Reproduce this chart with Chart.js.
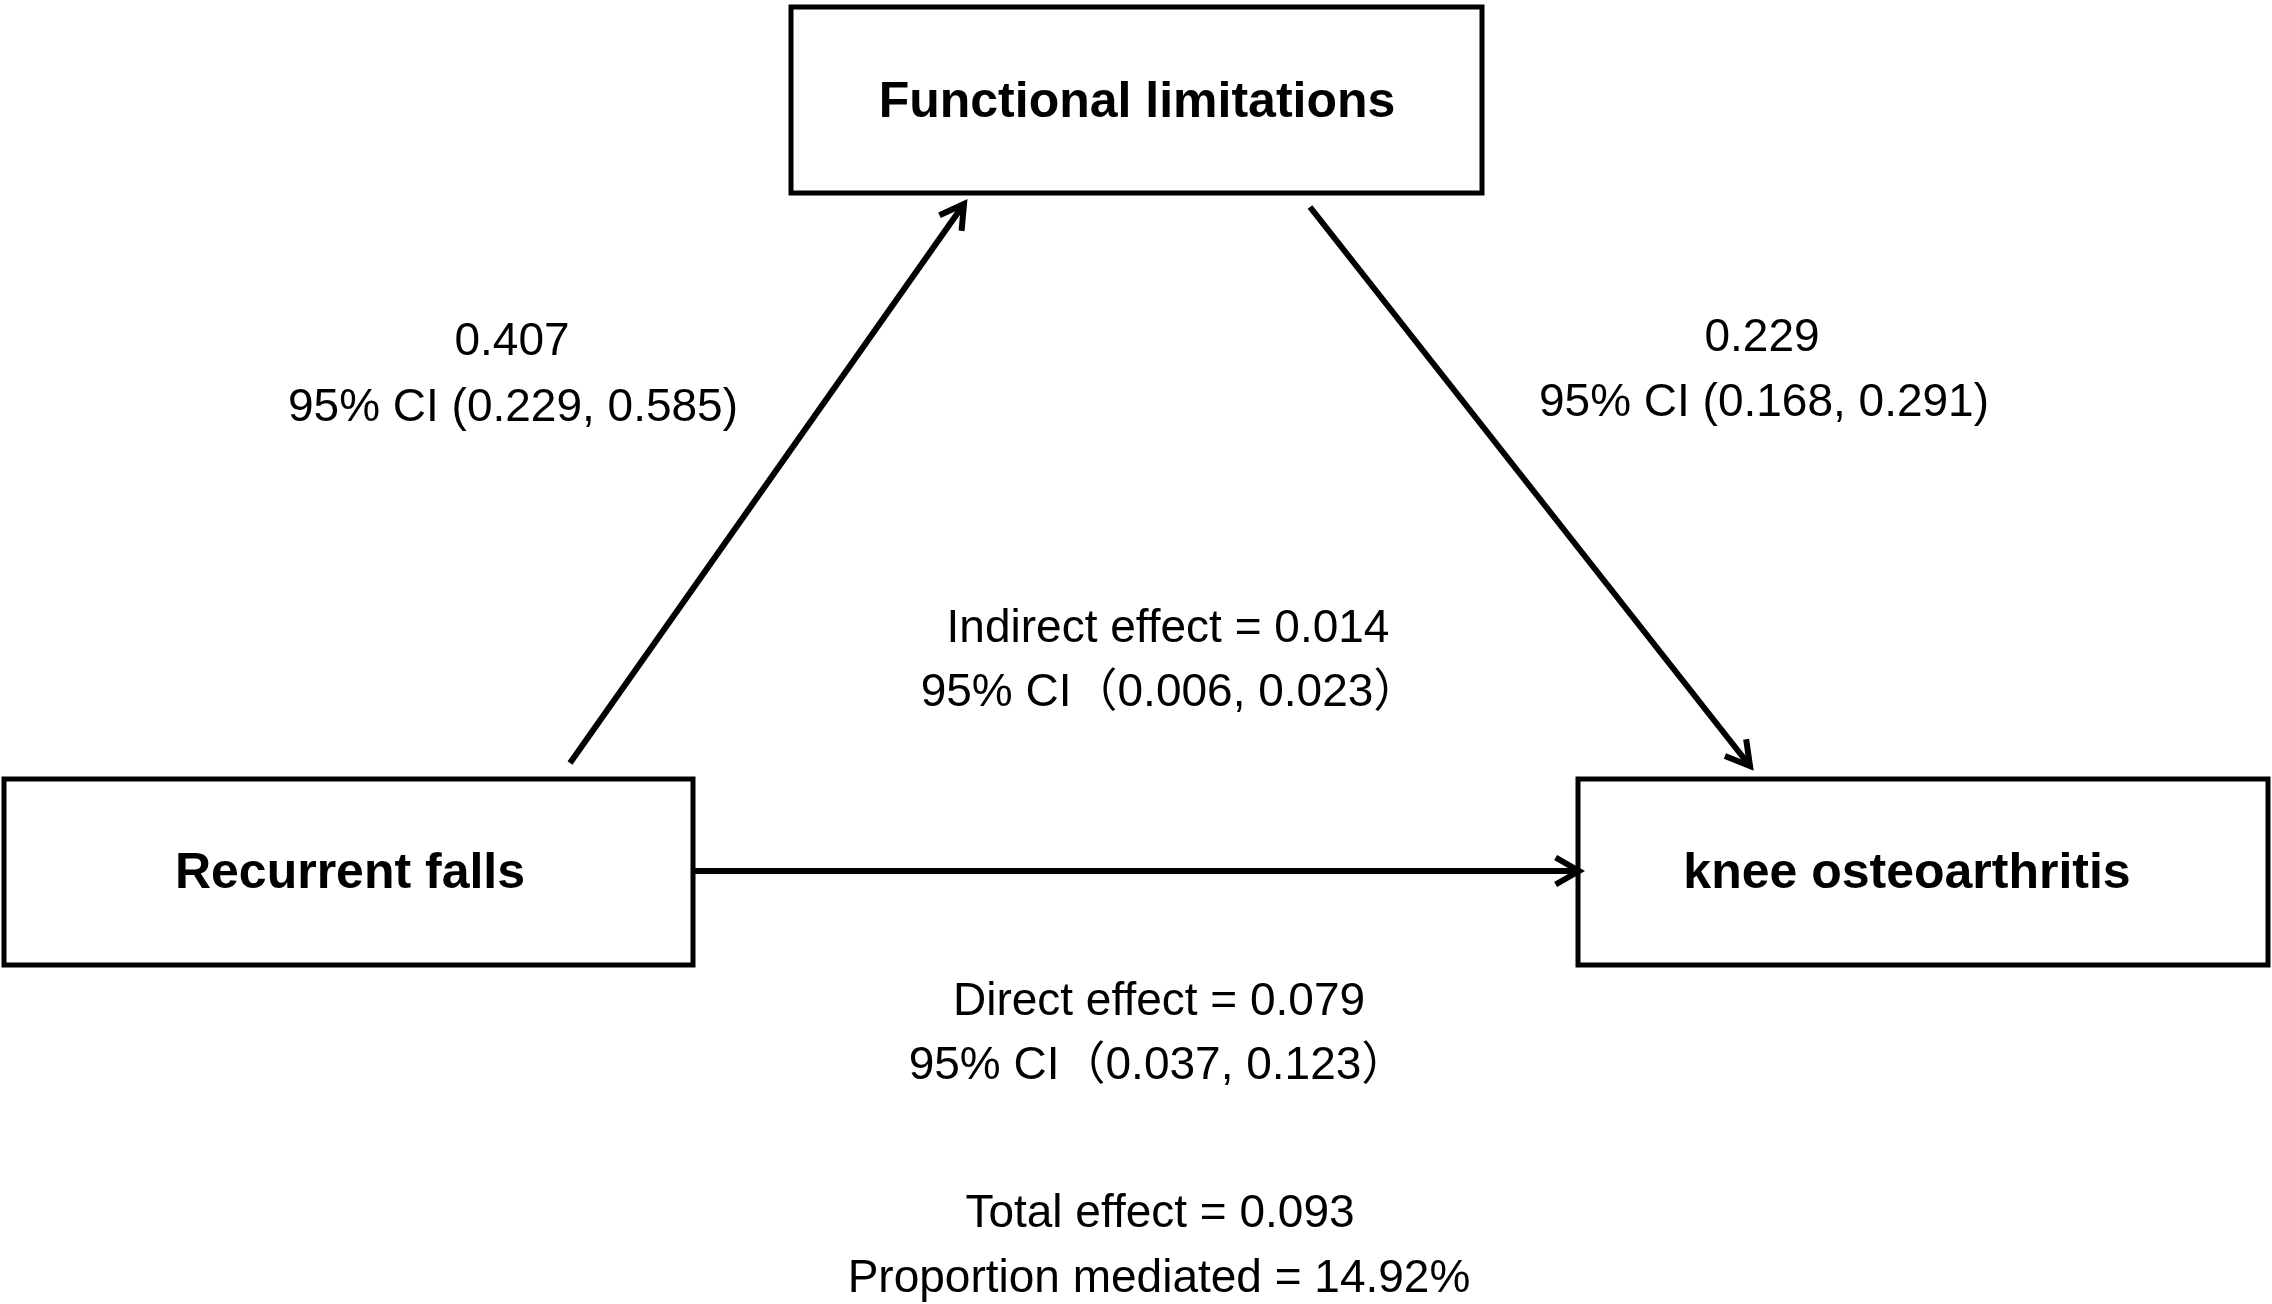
<!DOCTYPE html>
<html>
<head>
<meta charset="utf-8">
<script src="https://cdn.jsdelivr.net/npm/chart.js"></script>
<style>
  html, body { margin: 0; padding: 0; background: #ffffff; }
  #wrap { position: relative; width: 2272px; height: 1304px; }
</style>
</head>
<body>
<div id="wrap"><canvas id="c"></canvas></div>
<script>
// ---- data ----
const nodeLabels = ['Functional limitations', 'Recurrent falls', 'knee osteoarthritis'];
const pathA = [0.407, 0.229, 0.585];      // falls -> functional limitations (est, lo, hi)
const pathB = [0.229, 0.168, 0.291];      // functional limitations -> KOA
const indirectEffect = [0.014, 0.006, 0.023];
const directEffect = [0.079, 0.037, 0.123];
const totalEffect = 0.093;
const proportionMediated = 14.92;

// ---- layout (axis units = pixels of the figure) ----
const FIG_W = 2272, FIG_H = 1304;
const boxes = [
  { x0: 791, x1: 1482, y0: 7, y1: 193, tx: 1137, ty: 103 },
  { x0: 4, x1: 693, y0: 779, y1: 965, tx: 350, ty: 874 },
  { x0: 1578, x1: 2268, y0: 779, y1: 965, tx: 1907, ty: 874 }
];
const arrows = [
  [{ x: 570, y: 763 }, { x: 964, y: 204 }],
  [{ x: 1310, y: 207 }, { x: 1750, y: 766 }],
  [{ x: 695, y: 871 }, { x: 1579, y: 871 }]
];
const f3 = v => v.toFixed(3);
const texts = [
  { s: f3(pathA[0]), x: 512, y: 342 },
  { s: '95% CI (' + f3(pathA[1]) + ', ' + f3(pathA[2]) + ')', x: 513, y: 408 },
  { s: f3(pathB[0]), x: 1762, y: 338 },
  { s: '95% CI (' + f3(pathB[1]) + ', ' + f3(pathB[2]) + ')', x: 1764, y: 403 },
  { s: 'Indirect effect = ' + f3(indirectEffect[0]), x: 1168, y: 629 },
  { s: '95% CI\uFF08' + f3(indirectEffect[1]) + ', ' + f3(indirectEffect[2]) + '\uFF09', x: 1170, y: 693 },
  { s: 'Direct effect = ' + f3(directEffect[0]), x: 1159, y: 1002 },
  { s: '95% CI\uFF08' + f3(directEffect[1]) + ', ' + f3(directEffect[2]) + '\uFF09', x: 1158, y: 1066 },
  { s: 'Total effect = ' + f3(totalEffect), x: 1160, y: 1214 },
  { s: 'Proportion mediated = ' + proportionMediated.toFixed(2) + '%', x: 1159, y: 1279 }
];

const FONT = '"Liberation Sans", Arial, "Noto Sans CJK SC", sans-serif';

const diagramPlugin = {
  id: 'diagram',
  beforeDatasetsDraw(chart) {
    const ctx = chart.ctx, xs = chart.scales.x, ys = chart.scales.y;
    ctx.save();
    ctx.fillStyle = '#ffffff';
    ctx.fillRect(0, 0, chart.width, chart.height);
    ctx.strokeStyle = '#000000';
    ctx.lineWidth = 5;
    ctx.lineJoin = 'miter';
    boxes.forEach((b, i) => {
      const x0 = xs.getPixelForValue(b.x0), x1 = xs.getPixelForValue(b.x1);
      const y0 = ys.getPixelForValue(b.y0), y1 = ys.getPixelForValue(b.y1);
      ctx.strokeRect(x0, y0, x1 - x0, y1 - y0);
      ctx.fillStyle = '#000000';
      ctx.font = 'bold 50px ' + FONT;
      ctx.textAlign = 'center';
      ctx.textBaseline = 'middle';
      ctx.fillText(nodeLabels[i], xs.getPixelForValue(b.tx), ys.getPixelForValue(b.ty));
    });
    ctx.font = '46px ' + FONT;
    ctx.textAlign = 'center';
    ctx.textBaseline = 'middle';
    ctx.fillStyle = '#000000';
    texts.forEach(t => ctx.fillText(t.s, xs.getPixelForValue(t.x), ys.getPixelForValue(t.y)));
    ctx.restore();
  },
  afterDatasetsDraw(chart) {
    const ctx = chart.ctx;
    ctx.save();
    ctx.strokeStyle = '#000000';
    ctx.lineWidth = 6;
    ctx.lineJoin = 'miter';
    ctx.lineCap = 'butt';
    chart.data.datasets.forEach((ds, i) => {
      const pts = chart.getDatasetMeta(i).data;
      if (pts.length < 2) return;
      const p0 = pts[pts.length - 2], p1 = pts[pts.length - 1];
      const ang = Math.atan2(p1.y - p0.y, p1.x - p0.x);
      const L = 27, a = Math.PI / 6;
      ctx.beginPath();
      ctx.moveTo(p1.x - L * Math.cos(ang - a), p1.y - L * Math.sin(ang - a));
      ctx.lineTo(p1.x, p1.y);
      ctx.lineTo(p1.x - L * Math.cos(ang + a), p1.y - L * Math.sin(ang + a));
      ctx.stroke();
    });
    ctx.restore();
  }
};

new Chart(document.getElementById('c'), {
  type: 'scatter',
  data: {
    datasets: arrows.map((a, i) => ({
      label: 'path' + i,
      data: a,
      showLine: true,
      borderColor: '#000000',
      borderWidth: 6,
      pointRadius: 0,
      pointHoverRadius: 0,
      fill: false,
      clip: false
    }))
  },
  options: {
    responsive: true,
    maintainAspectRatio: false,
    devicePixelRatio: 1,
    animation: false,
    layout: { padding: 0 },
    plugins: { legend: { display: false }, tooltip: { enabled: false } },
    events: [],
    scales: {
      x: { type: 'linear', min: 0, max: FIG_W, display: false },
      y: { type: 'linear', min: 0, max: FIG_H, reverse: true, display: false }
    }
  },
  plugins: [diagramPlugin]
});
</script>
</body>
</html>
